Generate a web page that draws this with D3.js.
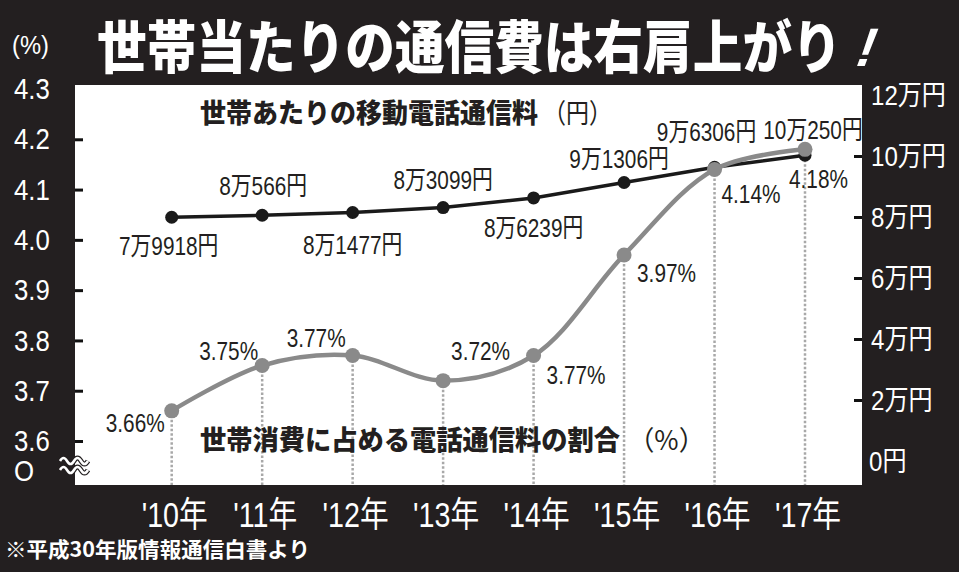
<!DOCTYPE html>
<html lang="ja">
<head>
<meta charset="UTF-8">
<title>世帯当たりの通信費は右肩上がり</title>
<script src="https://d3js.org/d3.v7.min.js"></script>
<style>
    body { margin: 0; background: #231f20; }
    svg { display: block; }
    text { font-family: "Liberation Sans", "Noto Sans CJK JP", sans-serif; }
    .cjk { font-family: "Noto Sans CJK JP", sans-serif; }
</style>
</head>
<body>
<svg id="chart" width="959" height="572"></svg>
<script>
// data
const years = ["'10年", "'11年", "'12年", "'13年", "'14年", "'15年", "'16年", "'17年"]
const mobileFee = [79918, 80566, 81477, 83099, 86239, 91306, 96306, 100250]
const feeLabels = ["7万9918円", "8万566円", "8万1477円", "8万3099円", "8万6239円", "9万1306円", "9万6306円", "10万250円"]
const share = [3.66, 3.75, 3.77, 3.72, 3.77, 3.97, 4.14, 4.18]
const shareLabels = ["3.66%", "3.75%", "3.77%", "3.72%", "3.77%", "3.97%", "4.14%", "4.18%"]
const leftTicks = [3.6, 3.7, 3.8, 3.9, 4.0, 4.1, 4.2, 4.3]
const rightTicks = [0, 20000, 40000, 60000, 80000, 100000, 120000]
const rightTickLabels = ["0円", "2万円", "4万円", "6万円", "8万円", "10万円", "12万円"]

// label placement (dx, dy from point, anchor)
const feePlace = [[-3, 29, "middle"], [1, -29, "middle"], [0, 33, "middle"], [0, -27, "middle"],
                  [0, 30, "middle"], [-5, -23, "middle"], [-8, -35, "middle"], [8, -25, "middle"]]
const sharePlace = [[-7, 12, "end"], [-4, -14, "end"], [-7, -17, "end"], [8, -29, "start"],
                    [13, 20, "start"], [13, 18, "start"], [7, 25, "start"], [-16, 30, "start"]]

const svg = d3.select("#chart")
const W = 959, H = 572
const plot = { left: 75, right: 862, top: 85, bottom: 485 }

const x = d3.scalePoint().domain(years).range([171.7, 805])
const yL = d3.scaleLinear().domain([3.6, 4.3]).range([441, 89])
const yR = d3.scaleLinear().domain([0, 120000]).range([461, 95])

// condensed text helper
function ctext(g, tx, ty, str, size, sx, anchor, fill, cls) {
    return g.append("text")
        .attr("transform", `translate(${tx},${ty}) scale(${sx},1)`)
        .attr("text-anchor", anchor)
        .attr("dominant-baseline", "central")
        .attr("font-size", size)
        .attr("fill", fill)
        .attr("class", cls || null)
        .text(str)
}

// fitted CJK text helper
function fitted(g, tx, ty, str, size, weight, len, fill) {
    return g.append("text")
        .attr("class", "cjk")
        .attr("x", tx).attr("y", ty)
        .attr("font-size", size).attr("font-weight", weight)
        .attr("fill", fill)
        .attr("textLength", len).attr("lengthAdjust", "spacingAndGlyphs")
        .text(str)
}

svg.append("rect").attr("width", W).attr("height", H).attr("fill", "#231f20")

// title (15 full-width glyphs squeezed to 745px)
svg.append("text")
    .attr("class", "cjk")
    .attr("transform", `translate(97,68) scale(${745 / (57 * 15)},1)`)
    .attr("font-size", 57).attr("font-weight", 900)
    .attr("fill", "white")
    .text("世帯当たりの通信費は右肩上がり")
svg.append("text")
    .attr("transform", "translate(852,66) skewX(-20)")
    .attr("font-size", 54).attr("font-weight", 700)
    .attr("fill", "white")
    .text("!")
ctext(svg, 12, 45, "(%)", 25, 0.95, "start", "white")

// plot area
svg.append("rect")
    .attr("x", plot.left).attr("y", plot.top)
    .attr("width", plot.right - plot.left).attr("height", plot.bottom - plot.top)
    .attr("fill", "white")

// tick marks via axes
svg.append("g").attr("transform", `translate(${plot.left},0)`)
    .call(d3.axisRight(yL).tickValues(leftTicks.slice(0, -1)).tickSize(8).tickFormat(""))
svg.append("g").attr("transform", `translate(${plot.right},0)`)
    .call(d3.axisLeft(yR).tickValues(rightTicks.slice(1, -1)).tickSize(8).tickFormat(""))
svg.selectAll(".domain").remove()
svg.selectAll(".tick line").attr("stroke", "#111").attr("stroke-width", 3)

// left labels
leftTicks.forEach(v => ctext(svg, 14, yL(v), d3.format(".1f")(v), 30, 0.86, "start", "white"))
ctext(svg, 14, 471, "O", 30, 0.86, "start", "white")

// break mark
const wave = "M60,0 q3.5,-6 7,0 t7,0 t7,0 t7,0"
;[461, 470].forEach(yy => {
    svg.append("path").attr("d", wave).attr("transform", `translate(0,${yy})`)
        .attr("fill", "none").attr("stroke", "#231f20").attr("stroke-width", 5)
    svg.append("path").attr("d", wave).attr("transform", `translate(0,${yy})`)
        .attr("fill", "none").attr("stroke", "white").attr("stroke-width", 2.5)
})

// right labels
rightTicks.forEach((v, i) => ctext(svg, i === 0 ? 869 : 871, yR(v), rightTickLabels[i], 28, 0.86, "start", "white"))

// x labels
years.forEach(yr => ctext(svg, x(yr) + 3, 515, yr, 35, 0.82, "middle", "white"))

// footnote
fitted(svg, 5, 557, "※平成30年版情報通信白書より", 21, 700, 305, "white")

// dotted guide lines
years.forEach((yr, i) => {
    svg.append("line")
        .attr("x1", x(yr)).attr("x2", x(yr))
        .attr("y1", Math.max(yR(mobileFee[i]), yL(share[i])))
        .attr("y2", plot.bottom)
        .attr("stroke", "#a8a8a8").attr("stroke-width", 2.5)
        .attr("stroke-dasharray", "2.5,2")
})

// series titles
fitted(svg, 200, 123, "世帯あたりの移動電話通信料", 27, 900, 338, "#231f20")
fitted(svg, 543, 123, "（円）", 27, 400, 69, "#231f20")
fitted(svg, 200, 450, "世帯消費に占める電話通信料の割合", 27, 900, 420, "#231f20")
fitted(svg, 628, 450, "（%）", 27, 400, 77, "#231f20")

// fee line (black)
const feeLine = d3.line().x((d, i) => x(years[i])).y(d => yR(d))
svg.append("path").datum(mobileFee).attr("d", feeLine)
    .attr("fill", "none").attr("stroke", "#1a1a1a").attr("stroke-width", 3.5)
svg.selectAll(".feeDot").data(mobileFee).enter().append("circle")
    .attr("cx", (d, i) => x(years[i])).attr("cy", d => yR(d)).attr("r", 6.5)
    .attr("fill", "#1a1a1a")

// share line (gray)
const shareLine = d3.line().x((d, i) => x(years[i])).y(d => yL(d)).curve(d3.curveCatmullRom.alpha(0.5))
svg.append("path").datum(share).attr("d", shareLine)
    .attr("fill", "none").attr("stroke", "#8a8a8a").attr("stroke-width", 4.5)
svg.selectAll(".shareDot").data(share).enter().append("circle")
    .attr("cx", (d, i) => x(years[i])).attr("cy", d => yL(d)).attr("r", 7.5)
    .attr("fill", "#8a8a8a")

// value labels
mobileFee.forEach((v, i) => {
    const p = feePlace[i]
    ctext(svg, x(years[i]) + p[0], yR(v) + p[1], feeLabels[i], 26, 0.8, p[2], "#231f20")
})
share.forEach((v, i) => {
    const p = sharePlace[i]
    ctext(svg, x(years[i]) + p[0], yL(v) + p[1], shareLabels[i], 26, 0.8, p[2], "#231f20")
})
</script>
</body>
</html>
